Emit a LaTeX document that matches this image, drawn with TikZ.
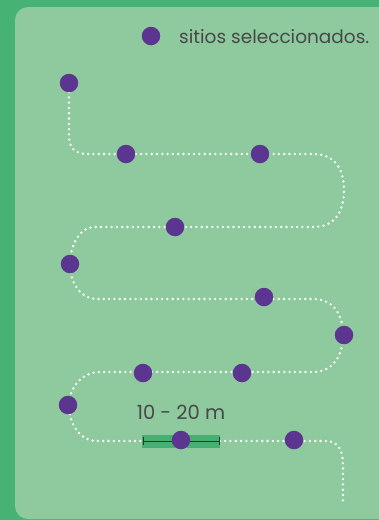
\documentclass[tikz,border=0pt]{standalone}
\usepackage{fontspec}
\setmainfont{Poppins}
\definecolor{outergreen}{HTML}{46B374}
\definecolor{innergreen}{HTML}{8FCA9F}
\definecolor{sitepurple}{HTML}{5B3590}
\definecolor{bargreen}{HTML}{45B072}
\definecolor{txtgray}{HTML}{484848}
\begin{document}
\begin{tikzpicture}[x=1pt,y=-1pt,
  site/.style={circle,fill=sitepurple,inner sep=0pt,minimum size=18.5pt},
  trail/.style={draw=white,line width=2.6pt,line cap=round,dash pattern=on 0pt off 5.3pt},
  lbl/.style={text=txtgray,inner sep=0pt}]
\useasboundingbox (0,0) rectangle (379,520);
\fill[outergreen] (0,0) rectangle (379,520);
\fill[innergreen,rounded corners=13pt] (15,7) rectangle (400,519);
% trail
\coordinate (t0) at (69,92);
\coordinate (t1) at (69,502);
\draw[trail] (t0) -- (69,136) .. controls (69,148) and (75,154) .. (88,154)
  -- (313,154) .. controls (337,154) and (344,172) .. (344,190)
  .. controls (344,209) and (337,227) .. (313,227)
  -- (95,227) .. controls (78,227) and (70,248) .. (70,264)
  .. controls (70,282) and (80,299) .. (97,299)
  -- (313,299) .. controls (336,299) and (343,318) .. (343,335)
  .. controls (343,354) and (334,372) .. (313,372)
  -- (100,372) .. controls (80,372) and (69,390) .. (69,405)
  .. controls (69,424) and (80,441) .. (97,441)
  -- (326,441) .. controls (338,441) and (343,450) .. (343,465)
  -- (343,502);
% scale bar
\node[fill=bargreen,minimum width=78pt,minimum height=13pt,inner sep=0pt] (bar) at (181,441.5) {};
\draw[txtgray!70!black,line width=0.8pt] (143,441) -- (219,441);
\draw[txtgray!70!black,line width=0.8pt] (143,437) -- (143,445) (219,437) -- (219,445);
\node[lbl,font=\fontsize{19.5}{22}\selectfont] (scale) at (181,412) {10 - 20 m};
% sites
\node[site] (s1) at (69,83) {};
\node[site] (s2) at (126,154) {};
\node[site] (s3) at (260,154) {};
\node[site] (s4) at (175,227) {};
\node[site] (s5) at (70,264) {};
\node[site] (s6) at (264,297) {};
\node[site] (s7) at (344,335) {};
\node[site] (s8) at (143,373) {};
\node[site] (s9) at (242,373) {};
\node[site] (s10) at (68,405) {};
\node[site] (s11) at (181,440) {};
\node[site] (s12) at (294,440) {};
% legend
\node[site] (leg) at (151,36) {};
\node[lbl,anchor=west,font=\fontsize{18.5}{22}\selectfont] (legtxt) at (179,37) {sitios seleccionados.};
\end{tikzpicture}
\end{document}
